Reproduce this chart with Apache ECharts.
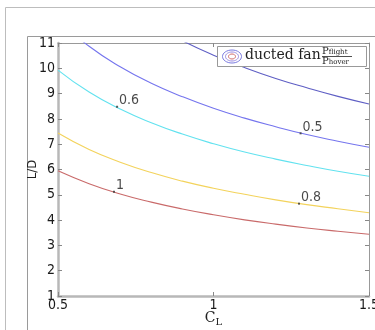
<!DOCTYPE html>
<html><head><meta charset="utf-8">
<script src="https://cdn.jsdelivr.net/npm/echarts@6/dist/echarts.min.js"></script>
<style>html,body{margin:0;padding:0;background:#fff;overflow:hidden}#c{width:375px;height:330px}</style>
</head><body><div id="c"></div>
<script>
const CL = [0.5, 0.6, 0.7, 0.8, 0.9, 1.0, 1.1, 1.2, 1.3, 1.4, 1.5];
const ratio04 = [14.88, 13.58, 12.57, 11.76, 11.09, 10.52, 10.03, 9.60, 9.23, 8.89, 8.59];
const ratio05 = [11.91, 10.87, 10.06, 9.41, 8.88, 8.42, 8.03, 7.69, 7.38, 7.12, 6.88];
const ratio06 = [9.93, 9.06, 8.39, 7.85, 7.40, 7.02, 6.69, 6.41, 6.16, 5.93, 5.73];
const ratio08 = [7.44, 6.79, 6.29, 5.88, 5.54, 5.26, 5.02, 4.80, 4.61, 4.45, 4.29];
const ratio10 = [5.95, 5.44, 5.03, 4.71, 4.44, 4.21, 4.01, 3.84, 3.69, 3.56, 3.44];
const labelNames = ['1', '0.8', '0.6', '0.5'];
const labelCL = [0.68, 1.275, 0.69, 1.28];
const labelLD = [5.12, 4.65, 8.48, 7.43];

const tickFont = "'DejaVu Sans Condensed','Liberation Sans',sans-serif";
function pairs(ys){ return CL.map((x,i)=>[x, ys[i]]); }
function line(name, ys, color){
  return {type:'line', name, data:pairs(ys), smooth:true, symbol:'none',
    lineStyle:{color, width:1.1}, clip:true, silent:true, z:2};
}
const chart = echarts.init(document.getElementById('c'), null, {renderer:'canvas'});
chart.setOption({
  animation:false,
  grid:{left:58, right:6, top:43, bottom:34, containLabel:false, outerBoundsMode:'none'},
  xAxis:[{
    type:'value', min:0.5, max:1.5, interval:0.5,
    axisLine:{lineStyle:{color:'#b8b8b8', width:2.5}},
    axisTick:{inside:true, length:4, lineStyle:{color:'#888'}},
    splitLine:{show:false},
    axisLabel:{color:'#1a1a1a', fontSize:14, fontFamily:tickFont, margin:2, hideOverlap:false,
      formatter:v=>String(+v.toFixed(1))},
    name:'{c|C}{s|L}', nameLocation:'middle', nameGap:13, nameMoveOverlap:false,
    nameTextStyle:{rich:{c:{fontFamily:"'DejaVu Serif',serif", fontSize:14, color:'#222'},
      s:{fontFamily:"'DejaVu Serif',serif", fontSize:10, color:'#222', verticalAlign:'bottom', padding:[8,0,0,0]}}}
  },{
    type:'value', position:'top', min:0.5, max:1.5, interval:0.5,
    axisLine:{show:true, lineStyle:{color:'#999', width:1}},
    axisTick:{inside:true, length:4, lineStyle:{color:'#888'}},
    axisLabel:{show:false}, splitLine:{show:false}
  }],
  yAxis:[{
    type:'value', min:1, max:11, interval:1,
    axisLine:{lineStyle:{color:'#b8b8b8', width:2.5}},
    axisTick:{inside:true, length:4, lineStyle:{color:'#888'}},
    splitLine:{show:false},
    axisLabel:{color:'#1a1a1a', fontSize:14, fontFamily:tickFont, margin:3},
    name:'L/D', nameLocation:'middle', nameGap:19, nameRotate:90, nameMoveOverlap:false,
    nameTextStyle:{color:'#222', fontSize:13, fontFamily:tickFont}
  },{
    type:'value', position:'right', min:1, max:11, interval:1,
    axisLine:{show:true, lineStyle:{color:'#999', width:1}},
    axisTick:{inside:true, length:4, lineStyle:{color:'#888'}},
    axisLabel:{show:false}, splitLine:{show:false}
  }],
  series:[
    line('0.4', ratio04, '#5e5ec4'),
    line('0.5', ratio05, '#7575ee'),
    line('0.6', ratio06, '#62e2ef'),
    line('0.8', ratio08, '#f3d35c'),
    line('1', ratio10, '#c96a6a'),
    {type:'scatter', symbol:'rect', symbolSize:2, itemStyle:{color:'#333'}, silent:true, z:5,
      data:labelNames.map((n,i)=>({value:[labelCL[i], labelLD[i]], name:n})),
      label:{show:true, position:'right', distance:1, offset:[0,-6], formatter:p=>p.name,
        color:'#1a1a1a', fontSize:14, fontFamily:tickFont}}
  ],
  graphic:[
    {type:'polyline', shape:{points:[[5.5,330],[5.5,7.5],[375,7.5]]}, style:{stroke:'#bdbdbd', fill:null, lineWidth:1}},
    {type:'polyline', shape:{points:[[27.5,330],[27.5,36.5],[375,36.5]]}, style:{stroke:'#9a9a9a', fill:null, lineWidth:1}},
    {type:'rect', shape:{x:217.5, y:46.5, width:149, height:20}, style:{fill:'#fff', stroke:'#999', lineWidth:1}, z:10},
    {type:'ellipse', shape:{cx:232, cy:56.5, rx:9.5, ry:6.5}, style:{fill:'none', stroke:'#7a7ae0', lineWidth:1}, z:11},
    {type:'ellipse', shape:{cx:232, cy:56.5, rx:6.5, ry:4.5}, style:{fill:'none', stroke:'#9a8ae0', lineWidth:1}, z:11},
    {type:'ellipse', shape:{cx:232, cy:56.5, rx:3.5, ry:2.5}, style:{fill:'none', stroke:'#d06a6a', lineWidth:1}, z:11},
    {type:'text', left:245, top:48, z:11, style:{text:'ducted fan', font:"14px 'DejaVu Serif', serif", fill:'#222'}},
    {type:'text', left:322, top:46, z:11, style:{text:'{p|P}{s|flight}', rich:{p:{font:"10px 'DejaVu Serif', serif", fill:'#222'}, s:{font:"7px 'DejaVu Serif', serif", fill:'#222', padding:[3,0,0,0]}}}},
    {type:'line', z:11, shape:{x1:322, y1:56.5, x2:352, y2:56.5}, style:{stroke:'#222', lineWidth:0.8}},
    {type:'text', left:322, top:56, z:11, style:{text:'{p|P}{s|hover}', rich:{p:{font:"10px 'DejaVu Serif', serif", fill:'#222'}, s:{font:"7px 'DejaVu Serif', serif", fill:'#222', padding:[3,0,0,0]}}}}
  ]
});
</script></body></html>
